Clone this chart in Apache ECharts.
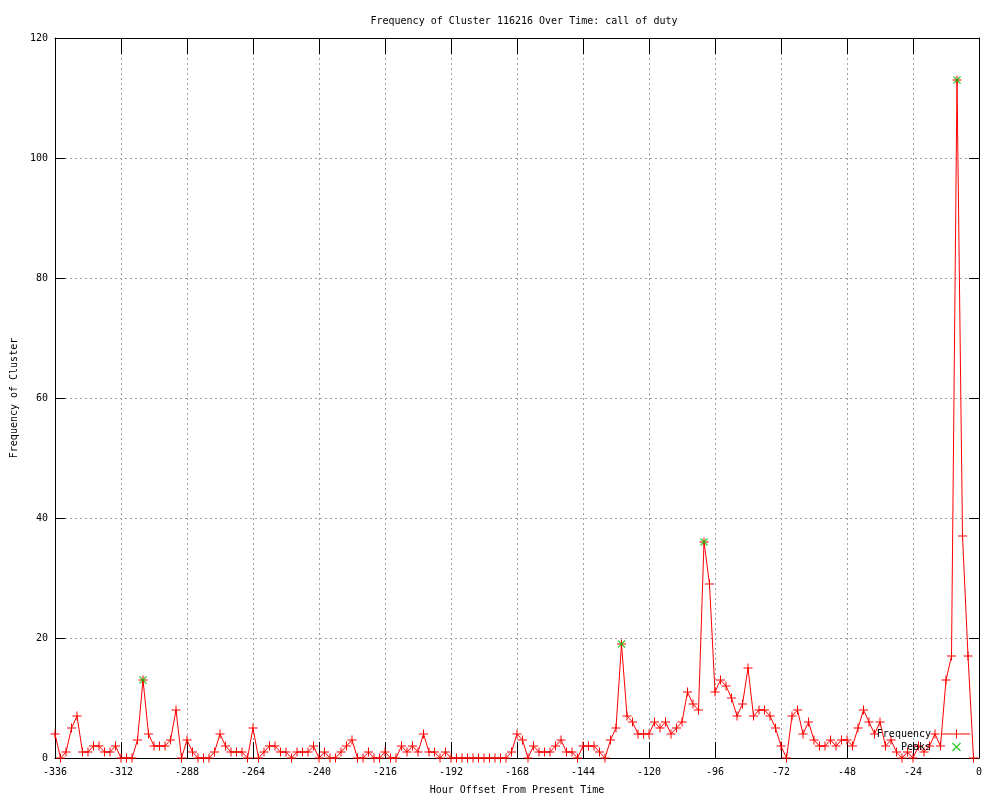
<!DOCTYPE html>
<html>
<head>
<meta charset="utf-8">
<script src="https://cdn.jsdelivr.net/npm/echarts@6/dist/echarts.min.js"></script>
<style>html,body{margin:0;padding:0;background:#fff}#c{width:1000px;height:800px}</style>
</head>
<body>
<div id="c"></div>
<script>
// ---- data ----
var titleText = 'Frequency of Cluster 116216 Over Time: call of duty';
var xName = 'Hour Offset From Present Time';
var yName = 'Frequency of Cluster';
var hourStart = -336;   // first sample (hours from now)
var hourStep = 2;       // samples every 2 hours
var frequency = [
  4,0,1,5,7,1,1,2,2,1,1,2,
  0,0,0,3,13,4,2,2,2,3,8,0,
  3,1,0,0,0,1,4,2,1,1,1,0,
  5,0,1,2,2,1,1,0,1,1,1,2,
  0,1,0,0,1,2,3,0,0,1,0,0,
  1,0,0,2,1,2,1,4,1,1,0,1,
  0,0,0,0,0,0,0,0,0,0,0,1,
  4,3,0,2,1,1,1,2,3,1,1,0,
  2,2,2,1,0,3,5,19,7,6,4,4,
  4,6,5,6,4,5,6,11,9,8,36,29,
  11,13,12,10,7,9,15,7,8,8,7,5,
  2,0,7,8,4,6,3,2,2,3,2,3,
  3,2,5,8,6,4,6,2,3,1,0,1,
  0,2,1,2,4,2,13,17,113,37,17,0
];
var peakHours = [-304, -130, -100, -8];
var peakValues = [13, 19, 36, 113];
var xMin = -336, xMax = 0, xInterval = 24;
var yMin = 0, yMax = 120, yInterval = 20;

// ---- build series data ----
var freqData = frequency.map(function (v, i) { return [hourStart + hourStep * i, v]; });
var peakData = peakHours.map(function (h, i) { return [h, peakValues[i]]; });

var FONT = 'DejaVu Sans Mono';
var plusPath = 'path://M4,0h1v9h-1z M0,4h9v1h-9z';
var crossPath = 'path://M0,1L1,0L9,8L8,9Z M8,0L9,1L1,9L0,8Z';
var freqLegendIcon = 'path://M0,4h28v1h-28z M14,0h1v9h-1z M10,4h9v1h-9z';
var peakLegendIcon = 'path://M10,1L11,0L19,8L18,9Z M18,0L19,1L11,9L10,8Z M0,4h0.01v0.01h-0.01z M28,4h0.01v0.01h-0.01z';
var gridLine = { show: true, lineStyle: { color: '#a0a0a0', width: 1, type: [2, 3] } };

var chart = echarts.init(document.getElementById('c'), null, { renderer: 'canvas' });
chart.setOption({
  animation: false,
  backgroundColor: '#ffffff',
  title: {
    text: titleText, left: 519, top: 11, textAlign: 'center',
    textStyle: { fontFamily: FONT, fontSize: 10, fontWeight: 'normal', color: '#000' }
  },
  legend: {
    data: [
      { name: 'Frequency', icon: freqLegendIcon },
      { name: 'Peaks', icon: peakLegendIcon }
    ],
    orient: 'vertical', right: 25, top: 724, align: 'right',
    itemWidth: 28, itemHeight: 9, itemGap: 3,
    textStyle: { fontFamily: FONT, fontSize: 10, color: '#000', padding: [0, 6, 0, 0] }
  },
  grid: { left: 55, right: 21, top: 38, bottom: 40, containLabel: false },
  xAxis: [{
    type: 'value', min: xMin, max: xMax, interval: xInterval,
    name: xName, nameLocation: 'middle', nameGap: 27,
    nameTextStyle: { fontFamily: FONT, fontSize: 10, color: '#000' },
    axisLine: { show: true, onZero: false, lineStyle: { color: '#000', width: 1 } },
    axisTick: { show: true, inside: true, length: 16, lineStyle: { color: '#000' } },
    axisLabel: { fontFamily: FONT, fontSize: 10, color: '#000', margin: 9 },
    splitLine: gridLine
  }, {
    type: 'value', position: 'top', min: xMin, max: xMax, interval: xInterval,
    axisLine: { show: true, onZero: false, lineStyle: { color: '#000', width: 1 } },
    axisTick: { show: true, inside: true, length: 16, lineStyle: { color: '#000' } },
    axisLabel: { show: false }, splitLine: { show: false }
  }],
  yAxis: [{
    type: 'value', min: yMin, max: yMax, interval: yInterval,
    name: yName, nameLocation: 'middle', nameGap: 35,
    nameTextStyle: { fontFamily: FONT, fontSize: 10, color: '#000' },
    axisLine: { show: true, onZero: false, lineStyle: { color: '#000', width: 1 } },
    axisTick: { show: true, inside: true, length: 10, lineStyle: { color: '#000' } },
    axisLabel: { fontFamily: FONT, fontSize: 10, color: '#000', margin: 7 },
    splitLine: gridLine
  }, {
    type: 'value', position: 'right', min: yMin, max: yMax, interval: yInterval,
    axisLine: { show: true, onZero: false, lineStyle: { color: '#000', width: 1 } },
    axisTick: { show: true, inside: true, length: 10, lineStyle: { color: '#000' } },
    axisLabel: { show: false }, splitLine: { show: false }
  }],
  series: [{
    name: 'Frequency', type: 'line', data: freqData,
    xAxisIndex: 0, yAxisIndex: 0,
    showAllSymbol: true, symbol: plusPath, symbolSize: 9,
    lineStyle: { color: '#ff0000', width: 1 },
    itemStyle: { color: '#ff0000' },
    emphasis: { disabled: true }, z: 3
  }, {
    name: 'Peaks', type: 'scatter', data: peakData,
    xAxisIndex: 0, yAxisIndex: 0,
    symbol: crossPath, symbolSize: 8,
    itemStyle: { color: '#00c000' },
    emphasis: { disabled: true }, z: 4
  }]
});
</script>
</body>
</html>
